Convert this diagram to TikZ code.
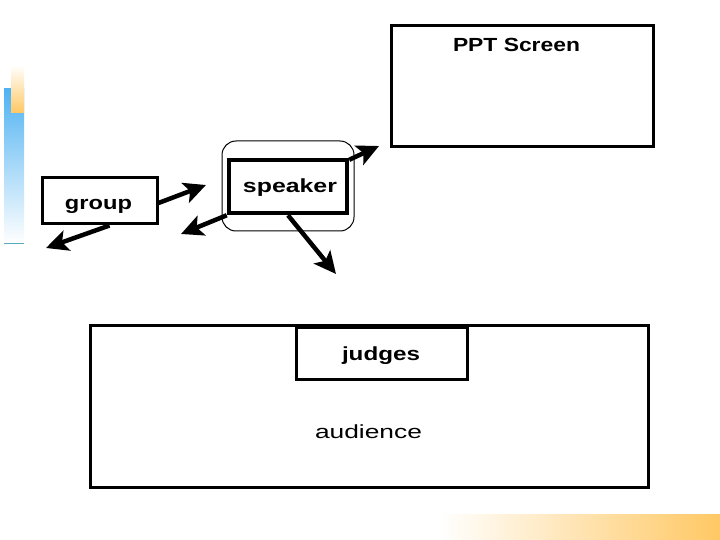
\documentclass[tikz,border=0pt]{standalone}
\usepackage{fontspec}
\setmainfont{Liberation Sans}
\usetikzlibrary{arrows.meta,calc}
\definecolor{barblue}{RGB}{80,178,242}
\definecolor{barorange}{RGB}{255,200,100}
\definecolor{barline}{RGB}{90,170,190}
\newcommand\wt[2]{\resizebox{#1}{\height}{#2}}
\begin{document}
\begin{tikzpicture}[x=1pt,y=-1pt,
  box/.style={draw,line width=3pt,rectangle,inner sep=0pt},
  txt/.style={inner sep=0pt,anchor=base,font=\fontsize{19}{22}\selectfont},
  btxt/.style={txt,font=\fontsize{19}{22}\selectfont\bfseries},
  arr/.style={line width=4.5pt,-{Stealth[length=22pt,width=21pt,inset=5pt]}}]
\useasboundingbox (0,0) rectangle (720,540);
% decorations
\shade[top color=barblue,bottom color=white] (4,89) rectangle (24,243);
\shade[top color=white,bottom color=barorange] (11,65) rectangle (24,113);
\draw[barline,line width=1pt] (4,243) -- (24,243);
\shade[left color=white,right color=barorange] (440,514) rectangle (720,540);
% boxes
\node[box,minimum width=262pt,minimum height=121pt] (ppt) at (522,86.5) {};
\node[btxt] (pptt) at (516.5,52) {\wt{127pt}{PPT Screen}};
\node[box,minimum width=115pt,minimum height=46pt] (grp) at (99.5,201) {};
\node[btxt] (grpt) at (98.5,209) {\wt{67pt}{group}};
\node[draw,line width=1pt,rounded corners=14pt,minimum width=132pt,minimum height=90pt] (spko) at (288,186) {};
\node[box,line width=4.5pt,minimum width=118pt,minimum height=53pt,fill=white] (spk) at (288,186.5) {};
\node[btxt] (spkt) at (290,193) {\wt{94pt}{speaker}};
\node[box,minimum width=558pt,minimum height=162pt] (aud) at (369,406) {};
\node[box,minimum width=171pt,minimum height=52pt] (jdg) at (381.5,353) {};
\node[btxt] (jdgt) at (381,360) {\wt{78pt}{judges}};
\node[txt] (audt) at (368.5,438) {\wt{107pt}{audience}};
% arrows
\coordinate (e1) at (379,146);
\coordinate (e2) at (206,185);
\coordinate (e3) at (181,234);
\coordinate (e4) at (46,248);
\coordinate (e5) at (336,274);
\draw[arr] ($(spk.north east)+(0,2)$) -- (e1);
\draw[arr] ($(grp.east)+(0,2)$) -- (e2);
\draw[arr] (spk.south west) -- (e3);
\draw[arr] ($(grp.south)+(10,0)$) -- (e4);
\draw[arr] (spk.south) -- (e5);
\end{tikzpicture}
\end{document}
